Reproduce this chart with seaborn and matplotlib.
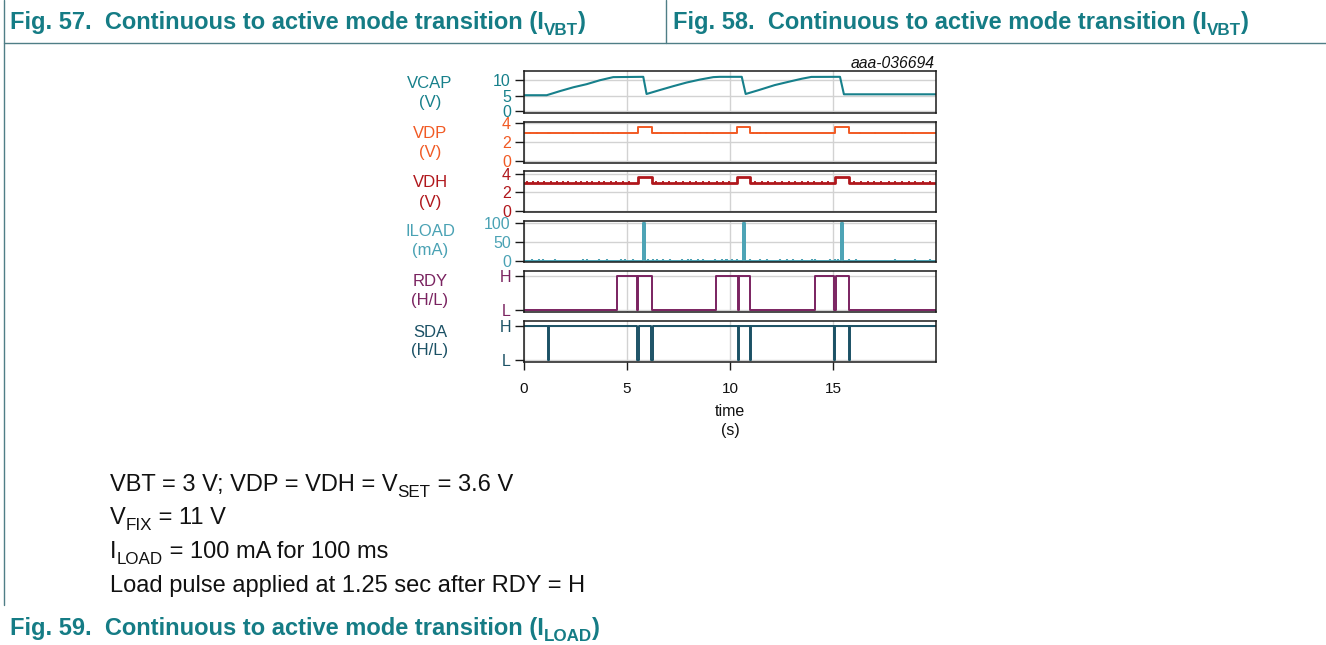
import matplotlib
matplotlib.use("Agg")
import matplotlib.pyplot as plt
from matplotlib.lines import Line2D
import pandas as pd
import seaborn as sns

# ---------------------------------------------------------------- data
# VCAP (V): charge / discharge trace, breakpoints in seconds
vcap_t = [0.0, 1.10, 1.75, 2.40, 3.04, 3.69, 4.33, 5.79, 5.95, 6.60, 7.25, 7.90,
          8.54, 9.19, 9.50, 10.57, 10.76, 11.41, 12.17, 12.98, 13.50, 13.95,
          15.34, 15.53, 20.0]
vcap_v = [5.1, 5.1, 6.45, 7.7, 8.7, 10.0, 11.0, 11.1, 5.5, 6.8, 8.06, 9.25,
          10.2, 11.0, 11.1, 11.1, 5.5, 6.8, 8.4, 9.7, 10.5, 11.07,
          11.1, 5.4, 5.4]

# VDP / VDH (V): base level and raised level while the supply is switched
vdp_base, vdp_high = 3.0, 3.65
vdh_base, vdh_high = 3.05, 3.7
supply_on = [5.55, 10.34, 15.10]
supply_off = [6.23, 10.97, 15.78]
vdp_glitch_t = [0.29, 0.61, 1.18, 1.26, 2.36, 3.37, 3.58, 3.85, 4.09, 4.34, 4.58,
                6.28, 6.44, 6.63, 7.25, 7.82, 8.54, 8.87, 9.16, 11.13, 11.30,
                11.46, 11.75, 16.31, 17.04, 18.33, 18.50, 18.90]
vdh_glitch_t = [0.15, 0.42, 0.70, 0.95, 1.30, 1.62, 1.88, 2.15, 2.50, 2.78, 3.05,
                3.30, 3.62, 3.90, 4.20, 4.45, 4.80, 5.10, 6.40, 6.75, 7.05, 7.40,
                7.70, 8.05, 8.35, 8.70, 9.00, 9.35, 9.65, 9.95, 11.20, 11.55,
                11.85, 12.20, 12.50, 12.85, 13.15, 13.50, 13.80, 14.10, 14.45,
                14.75, 16.00, 16.35, 16.70, 17.00, 17.35, 17.70, 18.00, 18.35,
                18.70, 19.00, 19.35, 19.70]

# ILOAD (mA): 100 mA load pulses of 100 ms, plus small blips
iload_pulse_t = [5.78, 10.62, 15.38]
iload_pulse_ms = 100
iload_pulse_ma = 100
iload_blip_t = [0.37, 0.74, 0.91, 1.50, 2.88, 3.07, 3.66, 4.04, 4.69, 4.90, 5.31,
                6.03, 6.25, 6.44, 6.73, 7.09, 7.65, 7.98, 8.09, 8.46, 8.67, 9.27,
                9.60, 9.80, 9.84, 10.08, 10.32, 10.97, 11.46, 11.78, 12.43, 12.75,
                13.07, 13.48, 13.97, 14.13, 14.85, 15.10, 15.26, 15.78, 16.12,
                18.01, 18.98, 19.71]
iload_blip_ma = 4

# RDY (H/L): high intervals
rdy_on = [4.51, 5.55, 9.32, 10.44, 14.11, 15.13]
rdy_off = [5.49, 6.20, 10.37, 10.97, 15.06, 15.78]

# SDA (H/L): short low pulses
sda_low_start = [1.15, 5.50, 6.18, 10.38, 10.95, 15.06, 15.76]
sda_low_end = [1.21, 5.56, 6.24, 10.44, 11.01, 15.12, 15.82]

x_ticks = [0, 5, 10, 15]
t_end = 20

# ---------------------------------------------------------------- style
sns.set_theme(style="white")
plt.rcParams["font.family"] = ["Liberation Sans", "DejaVu Sans"]

W, H = 1326, 645
fig = plt.figure(figsize=(W / 100, H / 100), dpi=100)

C_VCAP = "#17808b"
C_VDP = "#f15a24"
C_VDH = "#b0171c"
C_ILOAD = "#4aa2b4"
C_RDY = "#7a2360"
C_SDA = "#1b5165"
C_HEAD = "#157c85"
C_GRID = "#d2d2d2"
C_INK = "#111111"


def steps(base, high, starts, ends):
    t, v = [0.0], [base]
    for s, e in zip(starts, ends):
        t += [s, s, e, e]
        v += [base, high, high, base]
    t.append(t_end)
    v.append(base)
    return pd.DataFrame({"time": t, "value": v})


def panel(top, bottom):
    return fig.add_axes([524 / W, 1 - bottom / H, 412 / W, (bottom - top) / H])


def finish(ax, ylim, yticks, ylabels, color, last=False):
    ax.set_xlim(0, t_end)
    ax.set_ylim(*ylim)
    ax.set_xticks(x_ticks)
    ax.set_yticks(yticks)
    ax.set_yticklabels(ylabels)
    ax.set_xlabel("")
    ax.set_ylabel("")
    ax.grid(True, color=C_GRID, lw=1.0)
    ax.set_axisbelow(True)
    for sp in ax.spines.values():
        sp.set_color("#1a1a1a")
        sp.set_linewidth(1.1)
    ax.tick_params(axis="y", which="major", left=True, length=6.5, width=1.0,
                   color="#1a1a1a", pad=3, labelsize=11.5, labelcolor=color)
    if last:
        ax.tick_params(axis="x", bottom=True, length=6, width=1.0,
                       color="#1a1a1a", pad=8, labelsize=11, labelcolor=C_INK)
    else:
        ax.tick_params(axis="x", bottom=False, labelbottom=False)


def side_label(line1, line2, y1, y2, color):
    for s, y in ((line1, y1), (line2, y2)):
        fig.text(430 / W, 1 - y / H, s, ha="center", va="center",
                 fontsize=12, color=color)


lw = 1.4

# VCAP
ax = panel(71, 113)
sns.lineplot(data=pd.DataFrame({"time": vcap_t, "value": vcap_v}), x="time",
             y="value", ax=ax, color=C_VCAP, lw=1.5, estimator=None, sort=False)
finish(ax, (-0.7, 13.0), [0, 5, 10], ["0", "5", "10"], C_VCAP)
side_label("VCAP", "(V)", 83, 102, C_VCAP)

# VDP
ax = panel(121.7, 163)
sns.lineplot(data=steps(vdp_base, vdp_high, supply_on, supply_off), x="time",
             y="value", ax=ax, color=C_VDP, lw=lw, estimator=None, sort=False)
ax.vlines(vdp_glitch_t, vdp_base - 0.15, vdp_base + 0.12, color=C_VDP, lw=1.2)
finish(ax, (-0.2, 4.17), [0, 2, 4], ["0", "2", "4"], C_VDP)
side_label("VDP", "(V)", 133, 152, C_VDP)

# VDH
ax = panel(171, 212.3)
sns.lineplot(data=steps(vdh_base, vdh_high, supply_on, supply_off), x="time",
             y="value", ax=ax, color=C_VDH, lw=2.0, estimator=None, sort=False)
ax.vlines(vdh_glitch_t, vdh_base - 0.1, vdh_base + 0.13, color=C_VDH, lw=1.3)
finish(ax, (-0.17, 4.3), [0, 2, 4], ["0", "2", "4"], C_VDH)
side_label("VDH", "(V)", 183, 202, C_VDH)

# ILOAD
ax = panel(221, 262.3)
pulse_end = [t + iload_pulse_ms / 1000 for t in iload_pulse_t]
sns.lineplot(data=steps(0, iload_pulse_ma, iload_pulse_t, pulse_end), x="time",
             y="value", ax=ax, color=C_ILOAD, lw=lw, estimator=None, sort=False)
ax.vlines(iload_blip_t, 0, iload_blip_ma, color=C_ILOAD, lw=1.5)
finish(ax, (-4.3, 106), [0, 50, 100], ["0", "50", "100"], C_ILOAD)
side_label("ILOAD", "(mA)", 232, 251, C_ILOAD)

# RDY
ax = panel(270.7, 312.3)
sns.lineplot(data=steps(0, 1, rdy_on, rdy_off), x="time", y="value", ax=ax,
             color=C_RDY, lw=lw, estimator=None, sort=False)
finish(ax, (-0.07, 1.16), [0, 1], ["L", "H"], C_RDY)
side_label("RDY", "(H/L)", 282, 301, C_RDY)

# SDA
ax = panel(320.7, 362.3)
sns.lineplot(data=steps(1, 0, sda_low_start, sda_low_end), x="time", y="value",
             ax=ax, color=C_SDA, lw=lw, estimator=None, sort=False)
finish(ax, (-0.07, 1.15), [0, 1], ["L", "H"], C_SDA, last=True)
side_label("SDA", "(H/L)", 332, 351, C_SDA)

fig.text(730 / W, 1 - 411 / H, "time", ha="center", va="center", fontsize=11.5,
         color=C_INK)
fig.text(730 / W, 1 - 430 / H, "(s)", ha="center", va="center", fontsize=11.5,
         color=C_INK)
fig.text(935 / W, 1 - 63 / H, "aaa-036694", ha="right", va="center",
         fontsize=11.3, style="italic", color=C_INK)

# ---------------------------------------------------------------- page text
renderer = fig.canvas.get_renderer()


def rich(x_px, base_px, parts, size, color, weight="normal"):
    x = x_px
    for s, sub in parts:
        fs = size * 0.72 if sub else size
        y = base_px + (6 if sub else 0)
        t = fig.text(x / W, 1 - y / H, s, fontsize=fs, color=color,
                     fontweight=weight, ha="left", va="baseline")
        x += t.get_window_extent(renderer=renderer).width


rich(10, 29, [("Fig. 57.  Continuous to active mode transition (I", False),
              ("VBT", True), (")", False)], 17, C_HEAD, "bold")
rich(673, 29, [("Fig. 58.  Continuous to active mode transition (I", False),
               ("VBT", True), (")", False)], 17, C_HEAD, "bold")
rich(10, 635, [("Fig. 59.  Continuous to active mode transition (I", False),
               ("LOAD", True), (")", False)], 17, C_HEAD, "bold")

rich(110, 491, [("VBT = 3 V; VDP = VDH = V", False), ("SET", True),
                (" = 3.6 V", False)], 17, C_INK)
rich(110, 524, [("V", False), ("FIX", True), (" = 11 V", False)], 17, C_INK)
rich(110, 558, [("I", False), ("LOAD", True), (" = 100 mA for 100 ms", False)],
     17, C_INK)
rich(110, 592, [("Load pulse applied at 1.25 sec after RDY = H", False)], 17,
     C_INK)

# table rules
rule = "#4f7e86"
for xs, ys in [([4, 4], [0, 605]), ([666, 666], [0, 43]), ([4, W], [43, 43])]:
    fig.add_artist(Line2D([x / W for x in xs], [1 - y / H for y in ys],
                          color=rule, lw=1.0, transform=fig.transFigure))

fig.savefig("out.png", dpi=100)
